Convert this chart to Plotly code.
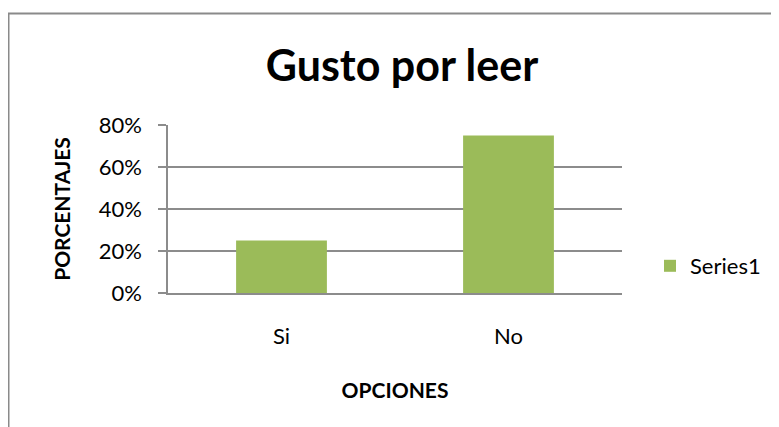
import plotly.graph_objects as go

# Chart data
categories = ["Si", "No"]
values = [0.25, 0.75]
series_name = "Series1"
y_ticks = [0, 0.2, 0.4, 0.6, 0.8]
y_tick_labels = ["0%", "20%", "40%", "60%", "80%"]

GREEN = "#9BBB59"
GRID = "#8C8C8C"
FONT = "Lato, 'Open Sans', sans-serif"

# the page body adds an 8px offset, so work in window pixels and shift
OFF = 8
W, H = 779, 427
L, R, T, B = 168 - OFF, 779 - 622 + OFF, 125 - OFF, 427 - 293 + OFF
pw, ph = W - L - R, H - T - B


def px_x(x):
    return (x - OFF - L) / pw


def px_y(y):
    return (H - B - (y - OFF)) / ph


fig = go.Figure(
    go.Bar(
        x=categories,
        y=values,
        name=series_name,
        marker=dict(color=GREEN, line=dict(width=0)),
        width=0.4,
        showlegend=True,
    )
)

fig.update_layout(
    width=W,
    height=H,
    paper_bgcolor="white",
    plot_bgcolor="white",
    margin=dict(l=L, r=R, t=T, b=B),
    font=dict(family=FONT, color="black"),
    title=dict(
        text="<b>Gusto por leer</b>",
        font=dict(size=43, family=FONT, color="black"),
        x=px_x(402), xref="paper", xanchor="center",
        y=1 - (66 - OFF) / H, yanchor="middle",
    ),
    showlegend=True,
    legend=dict(
        x=px_x(650), xanchor="left",
        y=px_y(266), yanchor="middle",
        font=dict(size=22, family=FONT),
        itemwidth=30,
    ),
)

fig.update_yaxes(
    range=[0, 0.8],
    tickvals=y_ticks,
    ticktext=y_tick_labels,
    tickfont=dict(size=22, family=FONT),
    showgrid=True, gridcolor=GRID, gridwidth=1.5,
    showline=True, linecolor=GRID, linewidth=1.5,
    ticks="outside", ticklen=8, tickcolor=GRID, tickwidth=1.5,
    ticklabelstandoff=12,
    zeroline=False,
    title=dict(text="<b>PORCENTAJES</b>", font=dict(size=21, family=FONT), standoff=22),
)

fig.update_xaxes(
    tickfont=dict(size=22, family=FONT),
    showline=True, linecolor=GRID, linewidth=1.5,
    ticks="", ticklabelstandoff=23,
    title=dict(text="<b>OPCIONES</b>", font=dict(size=21, family=FONT), standoff=35),
)

# Chart frame (cropped at right and bottom like the source)
fig.add_shape(
    type="rect", xref="paper", yref="paper",
    x0=px_x(8.5), x1=px_x(800), y0=px_y(13.5), y1=px_y(450),
    line=dict(color="#8A8A8A", width=2), fillcolor="rgba(0,0,0,0)",
    layer="below",
)

fig.write_html("out.html")
